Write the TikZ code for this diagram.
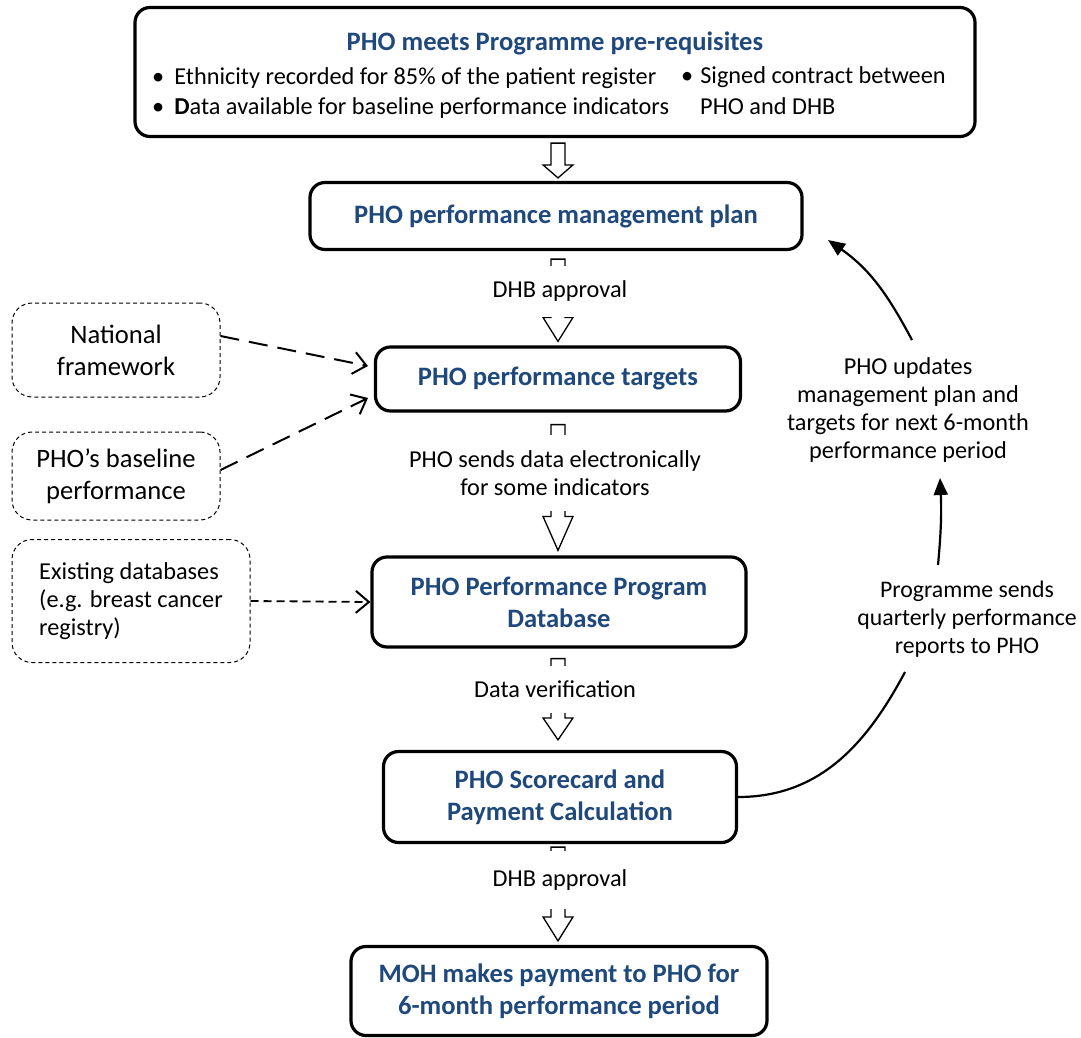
\documentclass[tikz,border=0pt]{standalone}
\usepackage{fontspec}
\setmainfont{Carlito}
\usetikzlibrary{backgrounds,calc,arrows.meta}
\definecolor{stageblue}{RGB}{31,73,125}

% hollow block arrow from the bottom of one box to the top of the next
% #1 from, #2 to, #3 gap at start, #4 head length, #5 gap at tip
\newcommand{\hollowarrow}[5]{%
  \draw[line width=1.3pt,fill=white] let \p1=(#1.south), \p2=(#2.north) in
    (558pt,\y1-#3) -- (551pt,\y1-#3) -- (551pt,\y2+#4+#5) -- (543pt,\y2+#4+#5)
    -- (558pt,\y2+#5) -- (573pt,\y2+#4+#5) -- (565pt,\y2+#4+#5) -- (565pt,\y1-#3) -- cycle;}

\begin{document}
\begin{tikzpicture}[x=1pt,y=-1pt]
        \tikzstyle{stage}=[draw,line width=3.2pt,rounded corners=15pt,fill=white,text=stageblue,align=center,inner sep=0pt,font=\bfseries\fontsize{26.6}{32}\selectfont]
        \tikzstyle{source}=[draw,line width=1pt,dash pattern=on 4pt off 3pt,rounded corners=20pt,fill=white,align=center,inner sep=0pt,font=\fontsize{26.6}{32}\selectfont]
        \tikzstyle{steplabel}=[fill=white,align=center,inner xsep=2pt,inner ysep=0pt,font=\fontsize{24.3}{28}\selectfont]
        \tikzstyle{note}=[align=center,inner sep=0pt,font=\fontsize{24.3}{28}\selectfont]
        \tikzstyle{feed}=[draw,line width=2pt,dash pattern=on 19pt off 10pt,-{Straight Barb[length=13pt,width=22pt,line width=2pt]}]
        \tikzstyle{loop}=[draw,line width=2.2pt,-{Triangle[length=17pt,width=14pt]}]
        \useasboundingbox (0,0) rectangle (1081,1038);
        % main boxes
        \node [stage,minimum width=840,minimum height=129] (pre) at (555,72) {};
        \node [stage,minimum width=492,minimum height=67] (plan) at (556,216) {PHO performance management plan};
        \node [stage,minimum width=365,minimum height=64] (targets) at (558,379) {PHO performance targets};
        \node [stage,minimum width=374,minimum height=90] (db) at (559,602) {PHO Performance Program\\Database};
        \node [stage,minimum width=353,minimum height=91] (score) at (560,797) {PHO Scorecard and\\Payment Calculation};
        \node [stage,minimum width=416,minimum height=89] (pay) at (559,991) {MOH makes payment to PHO for\\6-month performance period};
        % contents of the first box
        \node [text=stageblue,font=\bfseries\fontsize{26.6}{32}\selectfont] (pretitle) at (555,43) {PHO meets Programme pre-requisites};
        \node [note,anchor=west] (b1) at (152,78) {\textbullet\hspace{10pt}Ethnicity recorded for 85\% of the patient register};
        \node [note,anchor=west] (b2) at (152,108) {\textbullet\hspace{10pt}\textbf{D}ata available for baseline performance indicators};
        \node [note,anchor=west] (b3) at (681,77) {\textbullet\hspace{7pt}Signed contract between};
        \node [note,anchor=west] (b4) at (700,106) {PHO and DHB};
        % inputs
        \node [source,minimum width=208,minimum height=94] (natl) at (116,350) {National\\framework};
        \node [source,minimum width=208,minimum height=88] (base) at (116,476) {PHO’s baseline\\performance};
        \node [source,minimum width=238,minimum height=123,font=\fontsize{24.3}{28}\selectfont,align=left] (exist) at (131,601) {Existing databases\\(e.g. breast cancer\\registry)};
        % feedback texts
        \node [note] (upd) at (908,410) {PHO updates\\management plan and\\targets for next 6-month\\performance period};
        \node [note,font=\fontsize{23.8}{28}\selectfont] (rep) at (967,619) {Programme sends\\quarterly performance\\reports to PHO};
        \coordinate (repin) at (905,672);
        \coordinate (repout) at (938,565);
        \coordinate (updin) at (940,478);
        \coordinate (updout) at (912,340);
        \coordinate (planin) at (828,240);
        % block arrows behind the labels
        \begin{scope}[on background layer]
        \hollowarrow{pre}{plan}{5}{13}{3}
        \hollowarrow{plan}{targets}{8}{24}{4}
        \hollowarrow{targets}{db}{12}{34}{5}
        \hollowarrow{db}{score}{10}{22}{10}
        \hollowarrow{score}{pay}{3}{24}{4}
        \end{scope}
        \node [steplabel,minimum height=51] (l1) at (560,291) {DHB approval};
        \node [steplabel,minimum height=76] (l2) at (555,473) {PHO sends data electronically\\for some indicators};
        \node [steplabel,minimum height=47] (l3) at (555,689) {Data verification};
        \node [steplabel,minimum height=58] (l4) at (560,880) {DHB approval};
        % dashed inputs
        \path[feed] (natl.east |- 0,336) -- (368,366);
        \path[feed] (base.east |- 0,470) -- (368,398);
        \path[feed,line width=1.8pt,dash pattern=on 8pt off 5pt] (exist.east) -- (db.west);
        % feedback loop
        \path[draw,line width=2.2pt] (score.east) to[out=0,in=-118] (repin);
        \path[loop] (repout) to[bend right=4] (updin);
        \path[loop] (updout) to[out=118,in=-35] (planin);
\end{tikzpicture}
\end{document}
